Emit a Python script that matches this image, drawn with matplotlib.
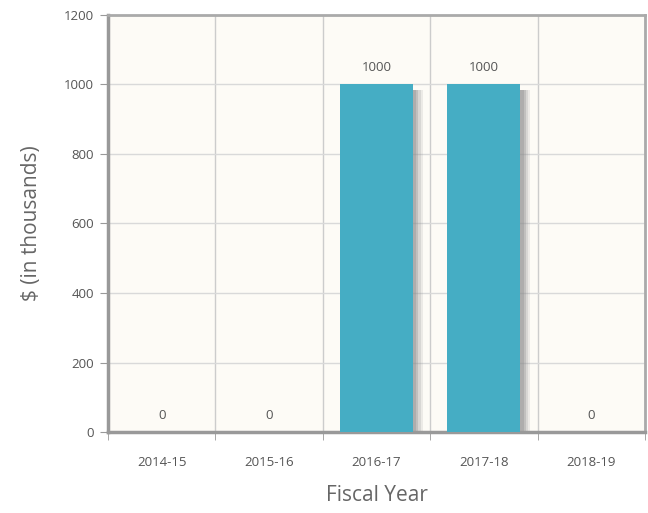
import matplotlib
matplotlib.use("Agg")
import matplotlib.pyplot as plt
import numpy as np

categories = ["2014-15", "2015-16", "2016-17", "2017-18", "2018-19"]
values = [0, 0, 1000, 1000, 0]
yticks = [0, 200, 400, 600, 800, 1000, 1200]

plt.rcParams['font.family'] = ['Open Sans', 'DejaVu Sans']

fig = plt.figure(figsize=(6.48, 5.13), dpi=100)
ax = fig.add_axes([108/648, (513-432)/513, (645-108)/648, (432-15)/513])
ax.set_facecolor("#fdfbf6")

x = np.arange(len(categories))
bw = 0.68
# soft shadow (layered)
for off, a in [(0.09, 0.15), (0.07, 0.2), (0.05, 0.3), (0.03, 0.35)]:
    ax.bar(x + off, [v * 0.985 for v in values], width=bw, color="#8c8c8c",
           alpha=a, linewidth=0, zorder=2)
ax.bar(x, values, width=bw, color="#45adc4", linewidth=0, zorder=3)

for xi, v in zip(x, values):
    ax.text(xi, v + 30, f"{v}", ha="center", va="bottom", fontsize=9.5, color="#555555", zorder=4)

ax.set_xlim(-0.5, len(categories) - 0.5)
ax.set_ylim(0, 1200)
ax.set_yticks(yticks)
ax.set_yticklabels([str(t) for t in yticks], fontsize=9.5, color="#555555")
ax.set_xticks(x)
ax.set_xticklabels(categories, fontsize=9.5, color="#555555")
ax.tick_params(axis='x', length=0, pad=17)
ax.tick_params(axis='y', length=6, color="#999999", pad=4)

# grid
ax.set_xticks(np.arange(-0.5, len(categories)), minor=True)
ax.grid(True, which='minor', axis='x', color="#cccccc", linewidth=1, zorder=0)
ax.grid(True, which='major', axis='y', color="#d9d9d9", linewidth=1, zorder=0)
ax.tick_params(axis='x', which='minor', length=6, color="#999999", direction='out')

for s in ['left', 'bottom']:
    ax.spines[s].set_color("#999999")
    ax.spines[s].set_linewidth(2.5)
for s in ['top', 'right']:
    ax.spines[s].set_color("#aaaaaa")
    ax.spines[s].set_linewidth(2)

ax.set_xlabel("Fiscal Year", fontsize=15, color="#666666", labelpad=12)
ax.set_ylabel("$ (in thousands)", fontsize=15, color="#666666", labelpad=16)
ax.set_axisbelow(True)

fig.savefig("out.png", dpi=100, facecolor="white")
